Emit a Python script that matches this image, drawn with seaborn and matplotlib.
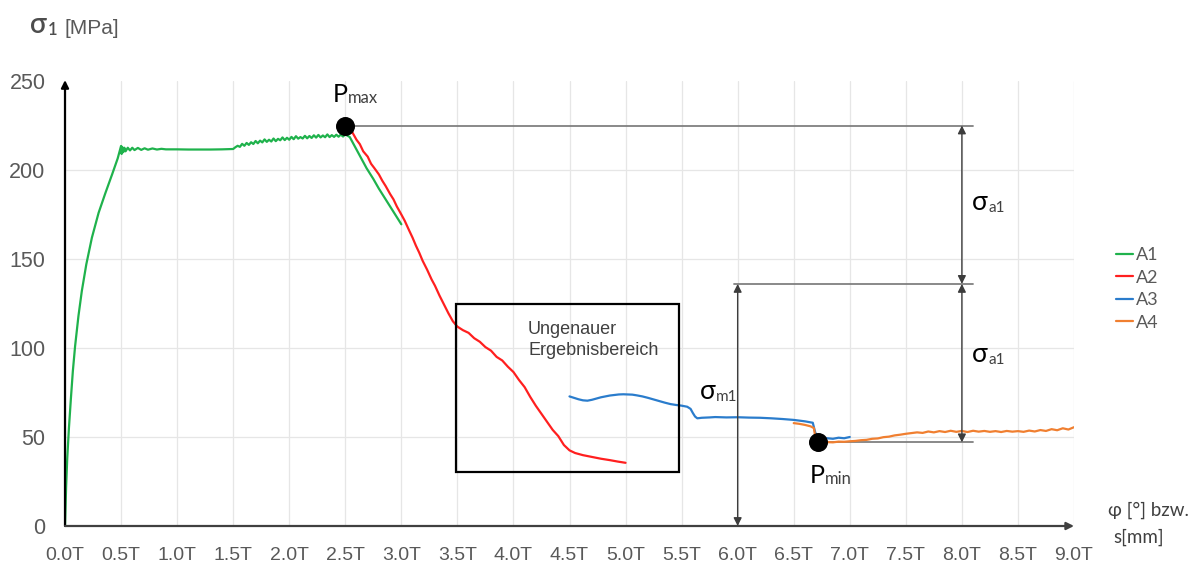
import matplotlib
matplotlib.use("Agg")
import matplotlib.pyplot as plt
import numpy as np
import pandas as pd
import seaborn as sns
from matplotlib.patches import Rectangle

# ---------------------------------------------------------------- data
# x in multiples of T, y = sigma_1 in MPa
a1_x = [0, 0.01, 0.02, 0.035, 0.053, 0.07, 0.09, 0.12, 0.15, 0.19, 0.24, 0.3, 0.36,
        0.42, 0.47, 0.5, 0.505, 0.51, 0.52, 0.53, 0.54, 0.56, 0.58, 0.6, 0.62,
        0.65, 0.68, 0.71, 0.74, 0.78, 0.82, 0.86, 0.9, 1.0, 1.1, 1.2, 1.3, 1.4, 1.5,
        1.52, 1.54, 1.56, 1.58, 1.6, 1.62, 1.64, 1.66, 1.68, 1.7, 1.72, 1.74, 1.76,
        1.78, 1.8, 1.82, 1.84, 1.86, 1.88, 1.9, 1.92, 1.94, 1.96, 1.98, 2.0, 2.02,
        2.04, 2.06, 2.08, 2.1, 2.12, 2.14, 2.16, 2.18, 2.2, 2.22, 2.24, 2.26, 2.28,
        2.3, 2.32, 2.34, 2.36, 2.38, 2.4, 2.42, 2.44, 2.46, 2.48, 2.5, 2.54, 2.6,
        2.69, 2.75, 2.8, 2.85, 2.9, 2.95, 3.0]
a1_y = [0, 22, 38, 55, 72, 87, 101, 118, 132, 147, 162, 176, 187,
        197.5, 206.5, 213.5, 209, 213, 210, 212.5, 210.5, 212.5, 211, 212.5, 211.2,
        212.4, 211.3, 212.2, 211.4, 212.1, 211.5, 211.9, 211.6, 211.6, 211.5, 211.5, 211.5, 211.6, 211.8,
        212.8, 213.6, 213.0, 214.7, 213.6, 215.2, 214.1, 215.6, 214.6, 216.3, 215.0, 216.5, 215.5,
        217.2, 215.8, 217.0, 216.0, 217.7, 216.2, 217.5, 216.7, 218.3, 216.8, 218.1, 217.0, 218.6,
        217.3, 219.0, 217.6, 218.5, 217.7, 219.2, 217.8, 219.1, 218.0, 219.5, 218.2, 219.7, 218.3,
        219.4, 218.4, 220.0, 218.5, 219.6, 218.6, 219.8, 218.7, 219.9, 218.8, 220.0, 218.5, 211.5,
        201, 195, 189.5, 184.5, 179.5, 174.5, 169.5]

a2_x = [2.5, 2.53, 2.56, 2.6, 2.63, 2.66, 2.7, 2.73, 2.76, 2.8, 2.83, 2.86, 2.9, 2.93,
        2.96, 3.0, 3.03, 3.07, 3.1, 3.13, 3.16, 3.19, 3.23, 3.27, 3.3, 3.34, 3.38, 3.42,
        3.46, 3.5, 3.55, 3.6, 3.65, 3.7, 3.75, 3.8, 3.85, 3.9, 3.95, 4.0, 4.05, 4.1,
        4.15, 4.2, 4.25, 4.3, 4.35, 4.4, 4.45, 4.5, 4.55, 4.62, 4.7, 4.78, 4.86, 4.93, 5.0]
a2_y = [228, 224, 221.5, 217, 214.5, 210.5, 207.5, 203.5, 201, 197.5, 194, 191, 186.5, 183.5,
        179.5, 175, 171.5, 166, 162, 157.5, 153.5, 149, 144, 138.5, 135, 129.5, 124.5, 119.5,
        115, 112, 110, 108.5, 105.5, 103.5, 100.5, 98.5, 95, 93, 89.5, 86.5, 82, 78,
        72.5, 67.5, 63, 58.5, 54, 50.5, 45.5, 42.5, 41, 39.8, 38.8, 37.8, 37, 36.2, 35.5]

a3_x = [4.5, 4.54, 4.58, 4.62, 4.66, 4.7, 4.74, 4.78, 4.82, 4.86, 4.9, 4.94, 4.98, 5.02,
        5.06, 5.1, 5.15, 5.2, 5.25, 5.3, 5.35, 5.4, 5.45, 5.5, 5.55, 5.58, 5.6, 5.62,
        5.64, 5.68, 5.75, 5.8, 5.9, 6.0, 6.1, 6.2, 6.3, 6.4, 6.5, 6.6, 6.67, 6.69, 6.71,
        6.75, 6.8, 6.85, 6.9, 6.95, 7.0]
a3_y = [72.8, 72.0, 71.2, 70.6, 70.4, 70.9, 71.6, 72.3, 72.8, 73.3, 73.6, 73.9, 74.0, 73.9,
        73.8, 73.4, 72.8, 72.0, 71.1, 70.2, 69.3, 68.5, 68.0, 67.6, 67.0, 65.8, 63.5, 61.5,
        60.5, 60.8, 61.0, 61.2, 61.0, 61.1, 60.9, 60.8, 60.5, 60.1, 59.6, 58.8, 58.0, 53.0, 49.5,
        49.0, 49.3, 49.0, 49.6, 49.3, 50.0]

a4_x = [6.5, 6.55, 6.6, 6.65, 6.68, 6.69, 6.7, 6.74, 6.8, 6.85, 6.9, 6.95, 7.0, 7.05, 7.1,
        7.15, 7.2, 7.25, 7.3, 7.35, 7.4, 7.45, 7.5, 7.55, 7.6, 7.65, 7.7, 7.75, 7.8, 7.85,
        7.9, 7.95, 8.0, 8.05, 8.1, 8.15, 8.2, 8.25, 8.3, 8.35, 8.4, 8.45, 8.5, 8.55, 8.6,
        8.65, 8.7, 8.75, 8.8, 8.85, 8.9, 8.95, 9.0]
a4_y = [57.8, 57.4, 56.8, 56.0, 55.0, 51, 48.0, 47.0, 47.1, 47.0, 47.4, 47.3, 47.6, 47.8, 48.2,
        48.4, 49.0, 49.2, 49.9, 50.2, 50.9, 51.3, 51.8, 52.2, 52.6, 52.3, 53.1, 52.6, 53.3, 52.8,
        53.5, 52.9, 53.4, 52.8, 53.5, 53.0, 53.4, 52.9, 53.3, 52.8, 53.4, 53.0, 53.3, 52.9, 53.6,
        53.1, 53.9, 53.4, 54.4, 53.8, 54.9, 54.2, 55.5]

series_names = ["A1", "A2", "A3", "A4"]
series_colors = ["#1fb24c", "#ff1f1f", "#2a7ccc", "#f07f30"]

x_ticks = [i * 0.5 for i in range(19)]
x_tick_labels = [f"{v:.1f}T" for v in x_ticks]
y_ticks = [0, 50, 100, 150, 200, 250]

# characteristic points
p_max_x, p_max = 2.5, 225
p_min_x, p_min = 6.72, 47
sigma_m = (p_max + p_min) / 2

# range of uncertain results
box_x0, box_x1 = 3.485, 5.48
box_y0, box_y1 = 30.5, 125

# ---------------------------------------------------------------- style
sns.set_theme(style="white")
plt.rcParams["font.family"] = ["Liberation Sans", "DejaVu Sans"]

W, H = 1203, 567
fig = plt.figure(figsize=(W / 100, H / 100), dpi=100)
ax_left, ax_right, ax_bottom, ax_top = 65, 1074, 526, 81
ax = fig.add_axes([ax_left / W, 1 - ax_bottom / H,
                   (ax_right - ax_left) / W, (ax_bottom - ax_top) / H])

frames = [pd.DataFrame({"x": xs, "y": ys, "Serie": n})
          for n, xs, ys in zip(series_names, [a1_x, a2_x, a3_x, a4_x],
                               [a1_y, a2_y, a3_y, a4_y])]
df = pd.concat(frames, ignore_index=True)

sns.lineplot(data=df, x="x", y="y", hue="Serie", palette=series_colors,
             estimator=None, sort=False, linewidth=1.6, ax=ax, zorder=3)
handles, labels = ax.get_legend_handles_labels()
ax.get_legend().remove()

sns.scatterplot(x=[p_max_x, p_min_x], y=[p_max, p_min], color="black",
                edgecolor="black", s=160, legend=False, ax=ax, zorder=6)

ax.set_xlim(0, 9)
ax.set_ylim(0, 250)
ax.set_xticks(x_ticks)
ax.set_xticklabels(x_tick_labels)
ax.set_yticks(y_ticks)
ax.set_xlabel("")
ax.set_ylabel("")
for s in ax.spines.values():
    s.set_visible(False)
ax.tick_params(axis="x", length=0, pad=15, labelsize=14, labelcolor="#595959")
ax.tick_params(axis="y", length=0, pad=14, labelsize=15.5, labelcolor="#595959")
ax.grid(True, color="#e6e6e6", linewidth=0.9, zorder=0)
ax.set_axisbelow(True)
ax.yaxis.get_gridlines()[-1].set_visible(False)

# axes drawn as arrows
ax.annotate("", xy=(0, 250.5), xytext=(0, 0), annotation_clip=False,
            arrowprops=dict(arrowstyle="-|>", color="black", lw=1.6,
                            shrinkA=0, shrinkB=0, mutation_scale=11))
ax.annotate("", xy=(9.0, 0), xytext=(0, 0), annotation_clip=False,
            arrowprops=dict(arrowstyle="-|>", color="#404040", lw=1.6,
                            shrinkA=0, shrinkB=0, mutation_scale=11))

# reference lines for P_max, sigma_m and P_min
ref_color = "#808080"
ax.plot([p_max_x, 8.1], [p_max, p_max], color=ref_color, lw=1.3, zorder=2)
ax.plot([5.97, 8.1], [sigma_m, sigma_m], color=ref_color, lw=1.3, zorder=2)
ax.plot([p_min_x, 8.1], [p_min, p_min], color=ref_color, lw=1.3, zorder=2)

arrow_kw = dict(arrowstyle="<|-|>", color="#3c3c3c", lw=1.0,
                shrinkA=0, shrinkB=0, mutation_scale=12)
ax.annotate("", xy=(8.0, p_max), xytext=(8.0, sigma_m), arrowprops=arrow_kw)
ax.annotate("", xy=(8.0, sigma_m), xytext=(8.0, p_min), arrowprops=arrow_kw)
ax.annotate("", xy=(6.0, sigma_m), xytext=(6.0, 0), arrowprops=arrow_kw)

# uncertain range box
ax.add_patch(Rectangle((box_x0, box_y0), box_x1 - box_x0, box_y1 - box_y0,
                       fill=False, edgecolor="black", lw=1.6, zorder=4))
ax.text(4.13, 110.3, "Ungenauer", fontsize=13, color="#404040", va="center", ha="left")
ax.text(4.13, 98.5, "Ergebnisbereich", fontsize=13, color="#404040", va="center", ha="left")


def sub_text(x, y, base, sub, size, subsize, color="black", subcolor="#404040",
             coords="data", weight="normal"):
    trans = ax.transData if coords == "data" else fig.transFigure
    t = ax.text(x, y, base, fontsize=size, color=color, family=["Lato", "DejaVu Sans"],
                va="baseline", ha="left", transform=trans, fontweight=weight)
    s = ax.annotate(sub, xy=(1, 0), xycoords=t, fontsize=subsize, color=subcolor,
                    family=["Lato", "DejaVu Sans"], va="bottom", ha="left",
                    xytext=(0.5, 0), textcoords="offset points", fontweight=weight)
    return s


sub_text(2.385, 238, "P", "max", 18, 12)
sub_text(6.64, 24, "P", "min", 18, 12)
sub_text(8.09, 177.5, "σ", "a1", 19, 11)
sub_text(8.09, 92, "σ", "a1", 19, 11)
sub_text(5.66, 71.5, "σ", "m1", 19, 11)

# y axis title
sig = sub_text(30 / W, 1 - 33 / H, "σ", "1", 20, 12, color="#4d4d4d", subcolor="#4d4d4d",
               coords="fig", weight="semibold")
ax.annotate("[MPa]", xy=(1, 0), xycoords=sig, xytext=(5, 0), textcoords="offset points",
            fontsize=15, color="#595959", va="bottom", ha="left")

# x axis title
fig.text(1108 / W, 1 - 510 / H, "φ [°] bzw.", fontsize=13.5, color="#404040",
         family=["Lato", "DejaVu Sans"], va="center", ha="left")
fig.text(1113 / W, 1 - 537 / H, "s[mm]", fontsize=13.5, color="#404040",
         family=["Lato", "DejaVu Sans"], va="center", ha="left")

fig.legend(handles, labels, loc="upper left", bbox_to_anchor=(1100 / W, 1 - 231 / H),
           frameon=False, handlelength=0.9, handletextpad=0.2, labelspacing=0.36,
           prop={"family": ["Lato", "DejaVu Sans"], "size": 13}, labelcolor="#595959")

fig.savefig("out.png", dpi=100)
